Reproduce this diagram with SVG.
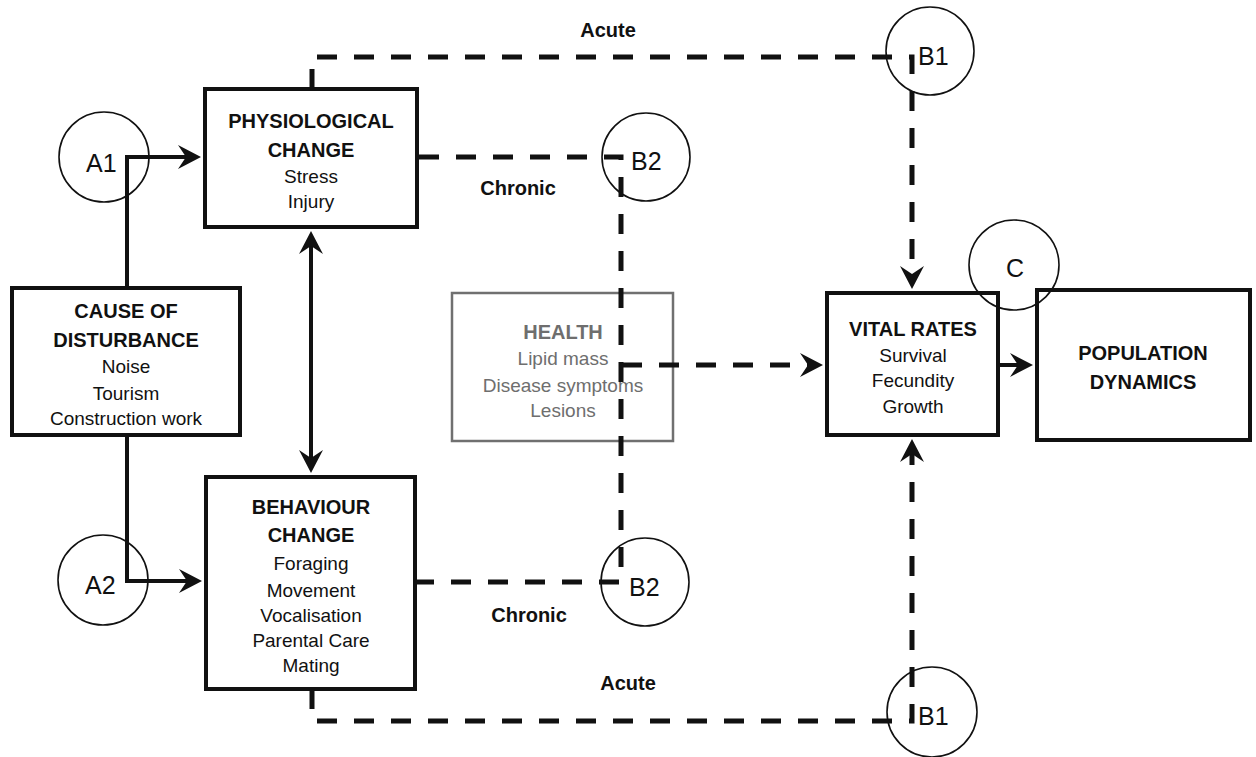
<svg xmlns="http://www.w3.org/2000/svg" width="1256" height="757" viewBox="0 0 1256 757">
<style>
text{font-family:"Liberation Sans",Arial,sans-serif;text-anchor:middle;fill:#111}
.h{font-weight:bold;font-size:20px}
.n{font-size:19px}
.lbl{font-weight:bold;font-size:20px}
.c{font-size:25px;text-anchor:start}
.box{fill:#fff;stroke:#111;stroke-width:4}
.hbox{fill:#fff;stroke:#707070;stroke-width:2.5}
.g{fill:#6e6e6e}
.circ{fill:none;stroke:#111;stroke-width:1.6}
.solid{fill:none;stroke:#111;stroke-width:4}
.dash{fill:none;stroke:#111;stroke-width:5;stroke-dasharray:20 17}
</style>
<defs>
<marker id="arr" markerUnits="userSpaceOnUse" viewBox="-20 -14 28 28" markerWidth="28" markerHeight="28" refX="0" refY="0" orient="auto-start-reverse">
<path d="M6,0 L-17,-12 L-9,0 L-17,12 Z" fill="#111"/>
</marker>
</defs>
<rect width="1256" height="757" fill="#fff"/>

<g id="cause">
<rect class="box" x="12" y="288" width="228" height="147"/>
<text class="h" x="126" y="318">CAUSE OF</text>
<text class="h" x="126" y="347">DISTURBANCE</text>
<text class="n" x="126" y="373">Noise</text>
<text class="n" x="126" y="400">Tourism</text>
<text class="n" x="126" y="425">Construction work</text>
</g>

<g id="physiological">
<rect class="box" x="205" y="89" width="212" height="138"/>
<text class="h" x="311" y="128">PHYSIOLOGICAL</text>
<text class="h" x="311" y="157">CHANGE</text>
<text class="n" x="311" y="183">Stress</text>
<text class="n" x="311" y="208">Injury</text>
</g>

<g id="behaviour">
<rect class="box" x="206" y="477" width="209" height="212"/>
<text class="h" x="311" y="514">BEHAVIOUR</text>
<text class="h" x="311" y="542">CHANGE</text>
<text class="n" x="311" y="570">Foraging</text>
<text class="n" x="311" y="597">Movement</text>
<text class="n" x="311" y="622">Vocalisation</text>
<text class="n" x="311" y="647">Parental Care</text>
<text class="n" x="311" y="672">Mating</text>
</g>

<g id="health">
<rect class="hbox" x="452" y="293" width="221" height="148"/>
<text class="h g" x="563" y="339">HEALTH</text>
<text class="n g" x="563" y="365">Lipid mass</text>
<text class="n g" x="563" y="392">Disease symptoms</text>
<text class="n g" x="563" y="417">Lesions</text>
</g>

<g id="vital">
<rect class="box" x="827" y="293" width="171" height="142"/>
<text class="h" x="913" y="336">VITAL RATES</text>
<text class="n" x="913" y="362">Survival</text>
<text class="n" x="913" y="387">Fecundity</text>
<text class="n" x="913" y="413">Growth</text>
</g>

<g id="population">
<rect class="box" x="1037" y="290" width="213" height="150"/>
<text class="h" x="1143" y="360">POPULATION</text>
<text class="h" x="1143" y="389">DYNAMICS</text>
</g>

<g id="connectors">
<path class="solid" d="M127,288 V157 H195" marker-end="url(#arr)"/>
<path class="solid" d="M127,435 V581 H196" marker-end="url(#arr)"/>
<path class="solid" d="M311,237 V467" marker-start="url(#arr)" marker-end="url(#arr)"/>
<path class="solid" d="M1000,365 H1027" marker-end="url(#arr)"/>
<path class="dash" d="M312,89 V57 H912 V283" marker-end="url(#arr)"/>
<path class="dash" d="M312,689 V721 H912 V445" marker-end="url(#arr)"/>
<path class="dash" d="M419,157 H621 V582 H417"/>
<path class="dash" d="M622,365 H817" marker-end="url(#arr)"/>
</g>

<g id="A1"><circle class="circ" cx="104" cy="157" r="45"/><text class="c" x="86" y="172">A1</text></g>
<g id="A2"><circle class="circ" cx="103" cy="580" r="45"/><text class="c" x="85" y="594">A2</text></g>
<g id="B1-top"><circle class="circ" cx="930" cy="51" r="44"/><text class="c" x="918" y="65">B1</text></g>
<g id="B2-top"><circle class="circ" cx="646" cy="157" r="44"/><text class="c" x="631" y="170">B2</text></g>
<g id="B2-bottom"><circle class="circ" cx="645" cy="582" r="44"/><text class="c" x="629" y="596">B2</text></g>
<g id="B1-bottom"><circle class="circ" cx="932" cy="712" r="45"/><text class="c" x="918" y="725">B1</text></g>
<g id="C"><circle class="circ" cx="1014" cy="265" r="45"/><text class="c" x="1006" y="277">C</text></g>

<g id="labels">
<text class="lbl" x="608" y="37">Acute</text>
<text class="lbl" x="518" y="195">Chronic</text>
<text class="lbl" x="529" y="622">Chronic</text>
<text class="lbl" x="628" y="690">Acute</text>
</g>
</svg>
